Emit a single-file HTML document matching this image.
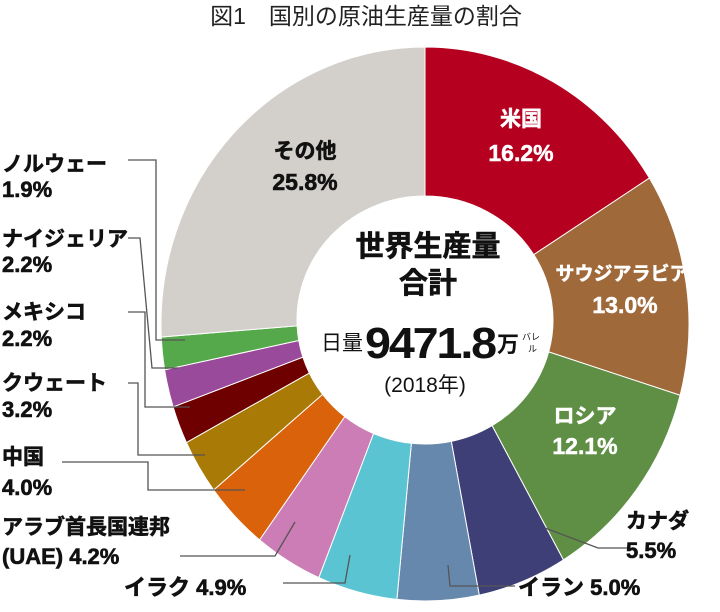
<!DOCTYPE html>
<html><head><meta charset="utf-8"><style>
body{margin:0;background:#fff;width:720px;height:607px;overflow:hidden;font-family:"Liberation Sans","Noto Sans CJK JP",sans-serif}
svg text{font-family:"Liberation Sans","Noto Sans CJK JP",sans-serif;font-weight:bold}
</style></head><body>
<svg id="s" width="720" height="607" viewBox="0 0 720 607" xmlns="http://www.w3.org/2000/svg">
<text x="366" y="24" text-anchor="middle" font-size="23" fill="#222" style="font-weight:normal">図1　国別の原油生産量の割合</text>
<g id="pie"></g>
<g fill="none" stroke="#555" stroke-width="1.3">
<polyline points="128,160 156,160 156,340 185,340"/>
<polyline points="128,238 140,238 152,368 178,368"/>
<polyline points="128,312 145,312 145,407 190,407"/>
<polyline points="128,383 138,383 138,455 205,455"/>
<polyline points="62,462 148,462 148,490 245,490"/>
<polyline points="180,556 275,556 295,522"/>
<polyline points="283,583 345,583 350,555"/>
<polyline points="515,586 450,586 448,565"/>
<polyline points="630,548 598,548 545,528"/>
</g>
<g font-size="21" fill="#111" stroke="#111" stroke-width="0.6">
<text x="2" y="171">ノルウェー</text><text x="2" y="197" font-size="22">1.9%</text>
<text x="2" y="246">ナイジェリア</text><text x="2" y="272" font-size="22">2.2%</text>
<text x="2" y="319">メキシコ</text><text x="2" y="346" font-size="22">2.2%</text>
<text x="2" y="390">クウェート</text><text x="2" y="417" font-size="22">3.2%</text>
<text x="2" y="464">中国</text><text x="2" y="495" font-size="22">4.0%</text>
<text x="2" y="534">アラブ首長国連邦</text><text x="2" y="564" font-size="22">(UAE) 4.2%</text>
<text x="124" y="595" font-size="22">イラク 4.9%</text>
<text x="518" y="595" font-size="22">イラン 5.0%</text>
<text x="626" y="528">カナダ</text><text x="626" y="558" font-size="22">5.5%</text>
<text x="305" y="158" text-anchor="middle">その他</text><text x="305" y="190" text-anchor="middle" font-size="23">25.8%</text>
</g>
<g font-size="21" fill="#fff" text-anchor="middle" stroke="#fff" stroke-width="0.5">
<text x="521" y="126">米国</text><text x="521" y="161" font-size="23">16.2%</text>
<text x="622" y="280" font-size="19">サウジアラビア</text><text x="625" y="313" font-size="23">13.0%</text>
<text x="585" y="423">ロシア</text><text x="585" y="454" font-size="23">12.1%</text>
</g>
<g fill="#111">
<text x="428" y="256" font-size="29" text-anchor="middle" stroke="#111" stroke-width="0.6">世界生産量</text>
<text x="428" y="293" font-size="29" text-anchor="middle" stroke="#111" stroke-width="0.6">合計</text>
<text x="363" y="350" font-size="21" text-anchor="end" style="font-weight:normal">日量</text>
<text x="365" y="358" font-size="44" letter-spacing="-2" textLength="130" lengthAdjust="spacingAndGlyphs">9471.8</text>
<text x="497" y="352" font-size="22">万</text>
<text x="522" y="340" font-size="9" style="font-weight:normal">バレ</text>
<text x="528" y="352" font-size="9" style="font-weight:normal">ル</text>
<text x="425" y="392" font-size="21" text-anchor="middle" style="font-weight:normal">(2018年)</text>
</g>
</svg>
<script>
var d=[[16.2,"#b5001f"],[13.0,"#a0693a"],[12.1,"#5e8f45"],[5.5,"#3f3f78"],[5.0,"#6688ad"],[4.9,"#5bc4d2"],[4.2,"#cc7db6"],[4.0,"#d9620a"],[3.2,"#a97a05"],[2.2,"#6e0000"],[2.2,"#9a4a9a"],[1.9,"#56a94a"],[25.8,"#d3cfcb"]];
var tot=100.2,cx=425,cy=324,rx=264,ry=277,irx=128,iry=124,icy=320,a=0,h="";
function P(t,x,y,r1,r2){return [x+r1*Math.sin(t),y-r2*Math.cos(t)]}
d.forEach(function(e){var a0=a,a1=a+e[0]/tot*2*Math.PI;a=a1;var L=(a1-a0)>Math.PI?1:0;
var p0=P(a0,cx,cy,rx,ry),p1=P(a1,cx,cy,rx,ry),q1=P(a1,cx,icy,irx,iry),q0=P(a0,cx,icy,irx,iry);
h+='<path fill="'+e[1]+'" stroke="#fff" stroke-width="1" d="M'+p0+' A'+rx+','+ry+' 0 '+L+' 1 '+p1+' L'+q1+' A'+irx+','+iry+' 0 '+L+' 0 '+q0+'Z"/>';});
h+='<ellipse cx="'+cx+'" cy="'+icy+'" rx="'+irx+'" ry="'+iry+'" fill="#fff"/>';
document.getElementById("pie").innerHTML=h;
</script>
</body></html>
